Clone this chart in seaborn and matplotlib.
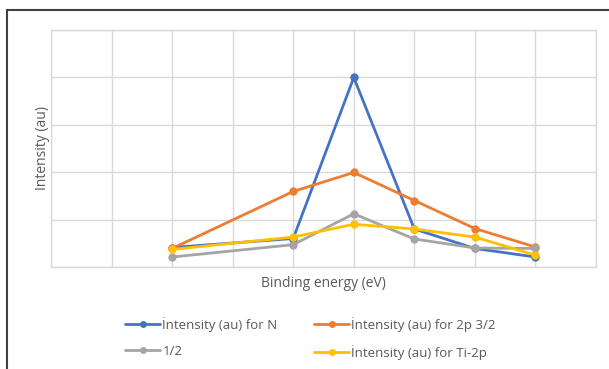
import matplotlib
matplotlib.use("Agg")
import matplotlib.pyplot as plt
import seaborn as sns
import pandas as pd
from matplotlib.lines import Line2D

# Data
x_vals = [2, 4, 5, 6, 7, 8]
series_names = ["İntensity (au) for N", "İntensity (au) for 2p 3/2", "1/2", "İntensity (au) for Ti-2p"]
y_N = [0.41, 0.60, 3.99, 0.80, 0.39, 0.21]
y_2p32 = [0.39, 1.59, 1.99, 1.40, 0.81, 0.42]
y_half = [0.21, 0.47, 1.12, 0.59, 0.40, 0.39]
y_Ti = [0.37, 0.63, 0.90, 0.80, 0.63, 0.25]
colors = ["#4472C4", "#ED7D31", "#A5A5A5", "#FFC000"]

rows = []
for name, ys in zip(series_names, [y_N, y_2p32, y_half, y_Ti]):
    for xv, yv in zip(x_vals, ys):
        rows.append({"x": xv, "y": yv, "series": name})
df = pd.DataFrame(rows)

sns.set_theme(style="white")
plt.rcParams['font.family'] = ['Open Sans', 'DejaVu Sans']

fig = plt.figure(figsize=(6.09, 3.69), dpi=100)
W, H = 609, 369
l, r, t, b = 51, 596, 29.5, 267
ax = fig.add_axes([l / W, 1 - b / H, (r - l) / W, (b - t) / H])

sns.lineplot(data=df, x="x", y="y", hue="series", hue_order=series_names,
             palette=colors, marker="o", markersize=6, markeredgewidth=0,
             linewidth=2, ax=ax, legend=False, sort=False)

ax.set_xlim(0, 9)
ax.set_ylim(0, 5)
ax.set_xticks(range(0, 10))
ax.set_yticks(range(0, 6))
ax.set_xticklabels([])
ax.set_yticklabels([])
ax.tick_params(length=0)
ax.grid(True, color="#d9d9d9", linewidth=1)
for s in ax.spines.values():
    s.set_color("#d9d9d9")
    s.set_linewidth(1)
ax.set_xlabel("Binding energy (eV)", color="#595959", fontsize=10, labelpad=3)
ax.set_ylabel("Intensity (au)", color="#595959", fontsize=10, labelpad=-3)

handles = [Line2D([], [], color=c, marker="o", markersize=5, markeredgewidth=0, linewidth=2)
           for c in colors]
order = [0, 2, 1, 3]
fig.legend([handles[i] for i in order], [series_names[i] for i in order],
           ncol=2, loc="center", bbox_to_anchor=(0.51, 1 - 338.5 / H), frameon=False,
           fontsize=9.5, labelcolor="#595959", handlelength=2.6, handletextpad=0.2,
           columnspacing=2.8, labelspacing=1.0)

# outer chart border (left and top)
fig.add_artist(Line2D([7 / W, 7 / W], [0, 1 - 10 / H], transform=fig.transFigure,
                      color="#404040", linewidth=1.5))
fig.add_artist(Line2D([7 / W, 1], [1 - 10 / H, 1 - 10 / H], transform=fig.transFigure,
                      color="#404040", linewidth=1.5))

fig.savefig("out.png", dpi=100)
